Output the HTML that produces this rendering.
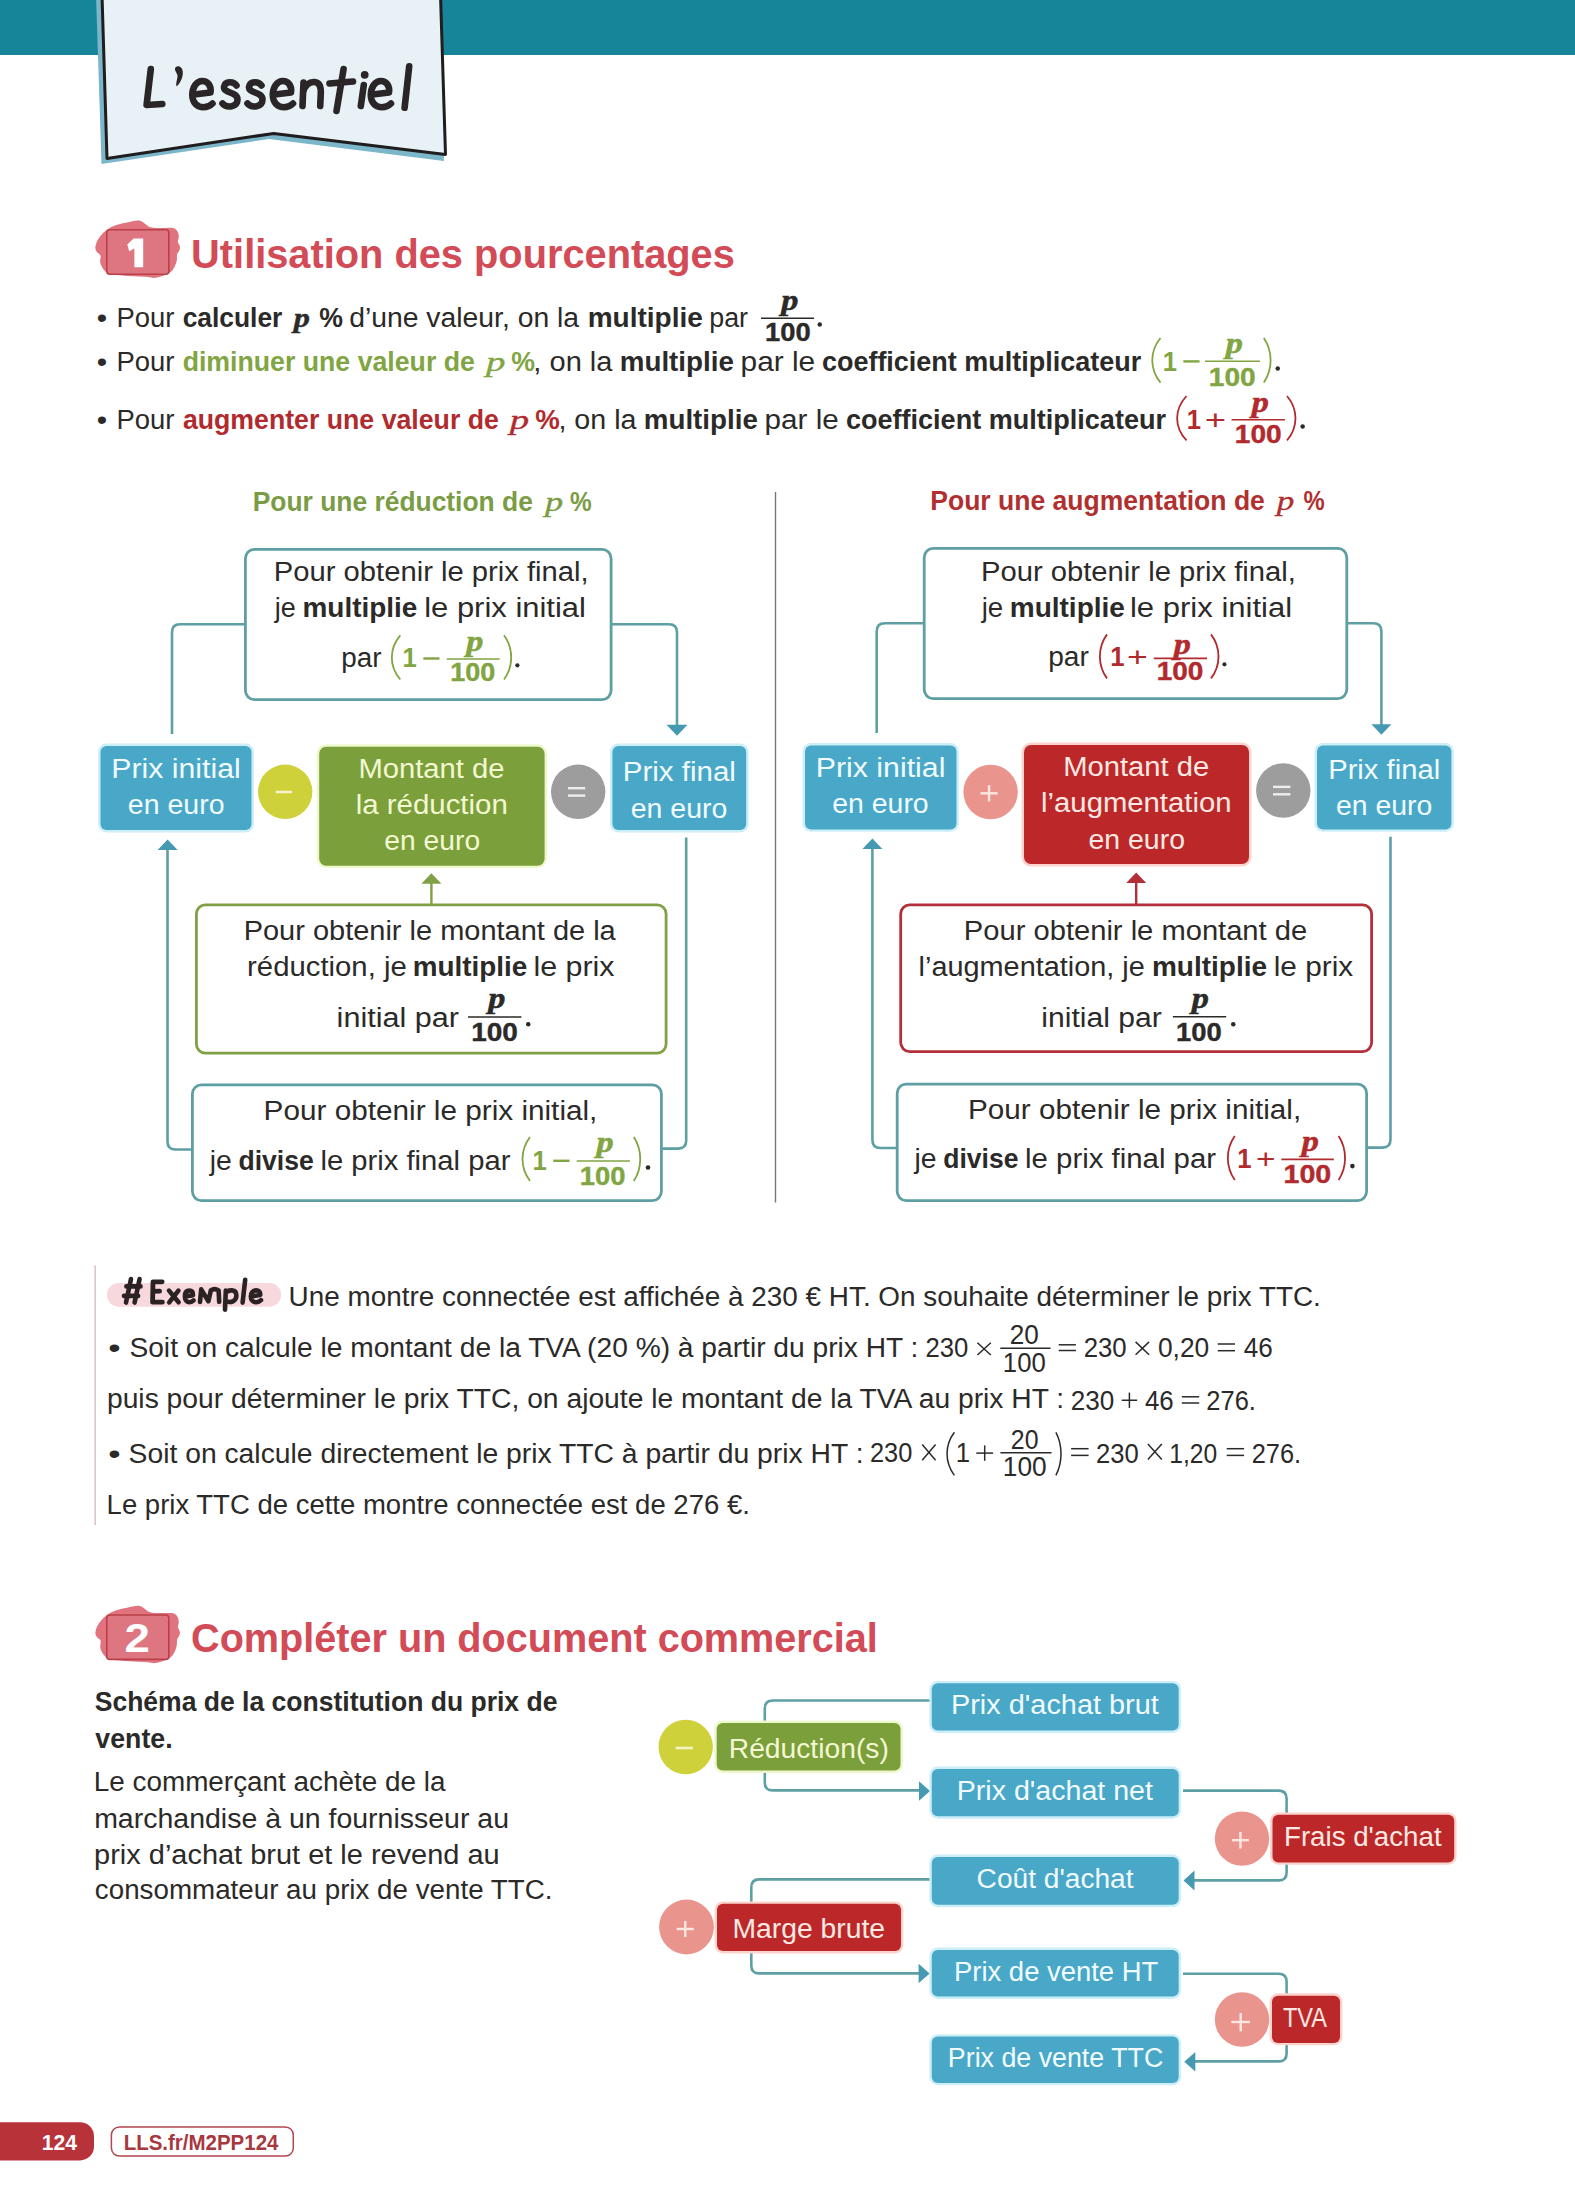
<!DOCTYPE html>
<html lang="fr"><head><meta charset="utf-8"><title>L'essentiel</title>
<style>
html,body{margin:0;padding:0;background:#fff;}
body{width:1575px;height:2205px;overflow:hidden;font-family:"Liberation Sans",sans-serif;}
svg{display:block;}
</style></head><body>
<svg width="1575" height="2205" viewBox="0 0 1575 2205">
<rect x="0" y="0" width="1575" height="2205" fill="#ffffff"/>
<rect x="0.00" y="0.00" width="1575.00" height="55.00" rx="0" fill="#16859a" stroke="none" stroke-width="0"/>
<polygon points="96.00,-5.00 101.50,164.00 269.00,139.00 444.00,161.00 439.00,-5.00" fill="#7cb6ca"/>
<path d="M102,-5 L107,158.5 L273.7,133.4 L445.5,154.4 L440.5,-5 Z" stroke="#1f1d1e" stroke-width="3" fill="#e8f1f5" stroke-linejoin="round"/>
<path d="M150.8,69 L146.6,105 L162.3,104" stroke="#2a2526" stroke-width="6.6" fill="none" stroke-linecap="round" stroke-linejoin="round"/>
<path d="M178.2,66.2 C182.5,66.5 184,72 182,78 C180.5,82 178.5,85 176.6,86.5 C175.5,84 177,80 177.5,77 C178,74 174.5,71 175,68.5 C175.5,67 176.5,66.2 178.2,66.2 Z" stroke="none" stroke-width="0" fill="#2a2526"/>
<path d="M194,94.5 L210.5,92.5 C211.5,85 207,81 202.5,81 C196,81 192.3,88 192.3,95 C192.3,103 197.5,107.3 203.5,107.3 C207.5,107.3 210.5,105.5 212.5,103.5" stroke="#2a2526" stroke-width="6.6" fill="none" stroke-linecap="round" stroke-linejoin="round"/>
<path d="M236.5,85.5 C234,81.5 225,80.5 224,87 C223.5,93.5 237.5,91.5 237.5,99.5 C237.5,107 227,108.5 222.5,103.5" stroke="#2a2526" stroke-width="6.6" fill="none" stroke-linecap="round" stroke-linejoin="round"/>
<path d="M261.5,85.5 C259,81.5 250,80.5 249,87 C248.5,93.5 262.5,91.5 262.5,99.5 C262.5,107 252,108.5 247.5,103.5" stroke="#2a2526" stroke-width="6.6" fill="none" stroke-linecap="round" stroke-linejoin="round"/>
<path d="M274.5,94.5 L291.0,92.5 C292.0,85 287.5,81 283.0,81 C276.5,81 272.8,88 272.8,95 C272.8,103 278.0,107.3 284.0,107.3 C288.0,107.3 291.0,105.5 293.0,103.5" stroke="#2a2526" stroke-width="6.6" fill="none" stroke-linecap="round" stroke-linejoin="round"/>
<path d="M303.5,82.5 L302.5,106 M303,93 C304.5,85 310,81.5 314.5,82 C319.5,82.5 321,87 320.8,93 L320.2,106" stroke="#2a2526" stroke-width="6.6" fill="none" stroke-linecap="round" stroke-linejoin="round"/>
<path d="M343.6,69 L336.5,111" stroke="#2a2526" stroke-width="6.6" fill="none" stroke-linecap="round" stroke-linejoin="round"/>
<path d="M329.5,83.5 L353,81.5" stroke="#2a2526" stroke-width="6.6" fill="none" stroke-linecap="round" stroke-linejoin="round"/>
<circle cx="364.7" cy="74.8" r="3.9" fill="#2a2526"/>
<path d="M363.8,85 L360.8,106" stroke="#2a2526" stroke-width="6.6" fill="none" stroke-linecap="round" stroke-linejoin="round"/>
<path d="M372.5,94.5 L389.0,92.5 C390.0,85 385.5,81 381.0,81 C374.5,81 370.8,88 370.8,95 C370.8,103 376.0,107.3 382.0,107.3 C386.0,107.3 389.0,105.5 391.0,103.5" stroke="#2a2526" stroke-width="6.6" fill="none" stroke-linecap="round" stroke-linejoin="round"/>
<path d="M409.2,66.3 L404.6,107.8" stroke="#2a2526" stroke-width="6.6" fill="none" stroke-linecap="round" stroke-linejoin="round"/>
<path d="M95.9,244.4 Q97.0,240.6 99.8,236.8 Q102.7,233.0 106.8,229.8 Q111.0,226.6 116.3,225.0 Q121.7,223.4 128.1,222.2 Q134.4,220.9 137.6,220.6 Q140.8,220.3 143.0,222.2 Q145.2,224.0 147.8,225.9 Q150.3,227.9 159.9,227.9 Q169.4,227.9 171.9,227.8 Q174.4,227.6 176.7,230.3 Q178.9,233.0 178.8,236.2 Q178.6,239.3 178.0,240.7 Q177.4,242.0 178.9,244.2 Q180.4,246.3 179.8,248.9 Q179.2,251.4 177.9,252.7 Q176.6,254.0 176.9,257.1 Q177.2,260.3 176.1,263.1 Q175.1,266.0 173.8,268.2 Q172.5,270.4 170.9,271.7 Q169.4,273.0 166.2,274.6 Q163.0,276.1 158.2,277.3 Q153.5,278.5 151.6,277.6 Q149.7,276.8 129.3,276.0 Q109.0,275.2 105.8,272.1 Q102.7,269.1 101.1,265.3 Q99.5,261.5 100.5,258.4 Q101.4,255.2 99.2,253.9 Q97.0,252.6 95.9,250.4 Q94.8,248.2 95.9,244.4 Z" stroke="none" stroke-width="0" fill="#e0737e"/>
<rect x="106.80" y="229.80" width="62.00" height="44.40" rx="3" fill="#de7681" stroke="#b9404a" stroke-width="1.6"/>
<polygon points="133.60,238.40 143.20,238.40 143.20,267.20 134.40,267.20 134.40,248.60 129.20,251.20 127.30,244.60" fill="#ffffff"/>
<path d="M95.9,1629.6 Q97.0,1625.8 99.8,1622.0 Q102.7,1618.2 106.8,1615.0 Q111.0,1611.8 116.3,1610.2 Q121.7,1608.6 128.1,1607.4 Q134.4,1606.1 137.6,1605.8 Q140.8,1605.5 143.0,1607.4 Q145.2,1609.2 147.8,1611.2 Q150.3,1613.1 159.9,1613.1 Q169.4,1613.1 171.9,1613.0 Q174.4,1612.8 176.7,1615.5 Q178.9,1618.2 178.8,1621.4 Q178.6,1624.5 178.0,1625.9 Q177.4,1627.2 178.9,1629.4 Q180.4,1631.5 179.8,1634.1 Q179.2,1636.6 177.9,1637.9 Q176.6,1639.2 176.9,1642.3 Q177.2,1645.5 176.1,1648.3 Q175.1,1651.2 173.8,1653.4 Q172.5,1655.6 170.9,1656.9 Q169.4,1658.2 166.2,1659.8 Q163.0,1661.3 158.2,1662.5 Q153.5,1663.7 151.6,1662.8 Q149.7,1662.0 129.3,1661.2 Q109.0,1660.4 105.8,1657.3 Q102.7,1654.3 101.1,1650.5 Q99.5,1646.7 100.5,1643.6 Q101.4,1640.4 99.2,1639.1 Q97.0,1637.8 95.9,1635.6 Q94.8,1633.4 95.9,1629.6 Z" stroke="none" stroke-width="0" fill="#e0737e"/>
<rect x="106.80" y="1615.00" width="62.00" height="44.40" rx="3" fill="#de7681" stroke="#b9404a" stroke-width="1.6"/>
<text x="124.40" y="1652.20" font-size="40" font-weight="bold" font-style="normal" font-family='"Liberation Sans", sans-serif' fill="#ffffff" textLength="25.38" lengthAdjust="spacingAndGlyphs">2</text>
<text x="191.11" y="267.80" font-size="41.5" font-weight="bold" font-style="normal" font-family='"Liberation Sans", sans-serif' fill="#d24b56" textLength="543.77" lengthAdjust="spacingAndGlyphs">Utilisation des pourcentages</text>
<text x="96.81" y="326.80" font-size="27" font-weight="normal" font-style="normal" font-family='"Liberation Sans", sans-serif' fill="#2b2a29" textLength="10.37" lengthAdjust="spacingAndGlyphs">•</text>
<text x="116.41" y="326.80" font-size="27" font-weight="normal" font-style="normal" font-family='"Liberation Sans", sans-serif' fill="#2b2a29" textLength="57.93" lengthAdjust="spacingAndGlyphs">Pour</text>
<text x="182.64" y="326.80" font-size="27" font-weight="bold" font-style="normal" font-family='"Liberation Sans", sans-serif' fill="#2b2a29" textLength="99.76" lengthAdjust="spacingAndGlyphs">calculer</text>
<text x="293.86" y="326.80" font-size="28" font-weight="bold" font-style="italic" font-family='"Liberation Serif", serif' fill="#2b2a29" textLength="16.11" lengthAdjust="spacingAndGlyphs" stroke="#2b2a29" stroke-width="0.45">p</text>
<text x="319.33" y="326.80" font-size="27" font-weight="bold" font-style="normal" font-family='"Liberation Sans", sans-serif' fill="#2b2a29" textLength="23.71" lengthAdjust="spacingAndGlyphs">%</text>
<text x="349.17" y="326.80" font-size="27" font-weight="normal" font-style="normal" font-family='"Liberation Sans", sans-serif' fill="#2b2a29" textLength="229.90" lengthAdjust="spacingAndGlyphs">d’une valeur, on la</text>
<text x="587.68" y="326.80" font-size="27" font-weight="bold" font-style="normal" font-family='"Liberation Sans", sans-serif' fill="#2b2a29" textLength="115.20" lengthAdjust="spacingAndGlyphs">multiplie</text>
<text x="709.26" y="326.80" font-size="27" font-weight="normal" font-style="normal" font-family='"Liberation Sans", sans-serif' fill="#2b2a29" textLength="38.76" lengthAdjust="spacingAndGlyphs">par</text>
<text x="781.15" y="310.13" font-size="29" font-weight="bold" font-style="italic" font-family='"Liberation Serif", serif' fill="#2b2a29" textLength="17.13" lengthAdjust="spacingAndGlyphs" stroke="#2b2a29" stroke-width="0.5">p</text>
<line x1="761.00" y1="318.20" x2="814.00" y2="318.20" stroke="#2b2a29" stroke-width="1.6"/>
<text x="765.06" y="341.30" font-size="26" font-weight="bold" font-style="normal" font-family='"Liberation Sans", sans-serif' fill="#2b2a29" textLength="45.63" lengthAdjust="spacingAndGlyphs" stroke="#2b2a29" stroke-width="0.4">100</text>
<circle cx="819.75" cy="324.55" r="2.25" fill="#2b2a29"/>
<text x="96.81" y="370.80" font-size="27" font-weight="normal" font-style="normal" font-family='"Liberation Sans", sans-serif' fill="#2b2a29" textLength="10.37" lengthAdjust="spacingAndGlyphs">•</text>
<text x="116.41" y="370.80" font-size="27" font-weight="normal" font-style="normal" font-family='"Liberation Sans", sans-serif' fill="#2b2a29" textLength="57.93" lengthAdjust="spacingAndGlyphs">Pour</text>
<text x="182.63" y="370.80" font-size="27" font-weight="bold" font-style="normal" font-family='"Liberation Sans", sans-serif' fill="#80a542" textLength="292.23" lengthAdjust="spacingAndGlyphs">diminuer une valeur de</text>
<text x="486.03" y="370.80" font-size="28" font-weight="normal" font-style="italic" font-family='"Liberation Serif", serif' fill="#80a542" textLength="19.43" lengthAdjust="spacingAndGlyphs" stroke="#80a542" stroke-width="0.35">p</text>
<text x="511.33" y="370.80" font-size="27" font-weight="bold" font-style="normal" font-family='"Liberation Sans", sans-serif' fill="#80a542" textLength="23.71" lengthAdjust="spacingAndGlyphs">%</text>
<text x="533.39" y="370.80" font-size="27" font-weight="normal" font-style="normal" font-family='"Liberation Sans", sans-serif' fill="#2b2a29" textLength="79.09" lengthAdjust="spacingAndGlyphs">, on la</text>
<text x="619.80" y="370.80" font-size="27" font-weight="bold" font-style="normal" font-family='"Liberation Sans", sans-serif' fill="#2b2a29" textLength="114.07" lengthAdjust="spacingAndGlyphs">multiplie</text>
<text x="740.56" y="370.80" font-size="27" font-weight="normal" font-style="normal" font-family='"Liberation Sans", sans-serif' fill="#2b2a29" textLength="74.68" lengthAdjust="spacingAndGlyphs">par le</text>
<text x="821.92" y="370.80" font-size="27" font-weight="bold" font-style="normal" font-family='"Liberation Sans", sans-serif' fill="#2b2a29" textLength="319.30" lengthAdjust="spacingAndGlyphs">coefficient multiplicateur</text>
<path d="M1160.50,338.00 C1149.50,351.38 1149.50,369.22 1160.50,382.60" stroke="#80a542" stroke-width="1.8" fill="none"/>
<text x="1162.68" y="370.80" font-size="27" font-weight="bold" font-style="normal" font-family='"Liberation Sans", sans-serif' fill="#80a542" textLength="14.27" lengthAdjust="spacingAndGlyphs">1</text>
<line x1="1183.30" y1="361.40" x2="1199.50" y2="361.40" stroke="#80a542" stroke-width="2.4"/>
<text x="1225.65" y="353.43" font-size="29" font-weight="bold" font-style="italic" font-family='"Liberation Serif", serif' fill="#80a542" textLength="17.13" lengthAdjust="spacingAndGlyphs" stroke="#80a542" stroke-width="0.5">p</text>
<line x1="1205.00" y1="361.20" x2="1260.00" y2="361.20" stroke="#80a542" stroke-width="1.6"/>
<text x="1208.81" y="386.10" font-size="26" font-weight="bold" font-style="normal" font-family='"Liberation Sans", sans-serif' fill="#80a542" textLength="46.91" lengthAdjust="spacingAndGlyphs" stroke="#80a542" stroke-width="0.4">100</text>
<path d="M1263.80,338.00 C1272.90,351.38 1272.90,369.22 1263.80,382.60" stroke="#80a542" stroke-width="1.8" fill="none"/>
<circle cx="1277.75" cy="368.55" r="2.25" fill="#2b2a29"/>
<text x="96.81" y="428.80" font-size="27" font-weight="normal" font-style="normal" font-family='"Liberation Sans", sans-serif' fill="#2b2a29" textLength="10.37" lengthAdjust="spacingAndGlyphs">•</text>
<text x="116.41" y="428.80" font-size="27" font-weight="normal" font-style="normal" font-family='"Liberation Sans", sans-serif' fill="#2b2a29" textLength="57.93" lengthAdjust="spacingAndGlyphs">Pour</text>
<text x="182.90" y="428.80" font-size="27" font-weight="bold" font-style="normal" font-family='"Liberation Sans", sans-serif' fill="#b12a2d" textLength="315.96" lengthAdjust="spacingAndGlyphs">augmenter une valeur de</text>
<text x="509.82" y="428.80" font-size="28" font-weight="normal" font-style="italic" font-family='"Liberation Serif", serif' fill="#b12a2d" textLength="19.34" lengthAdjust="spacingAndGlyphs" stroke="#b12a2d" stroke-width="0.35">p</text>
<text x="535.31" y="428.80" font-size="27" font-weight="bold" font-style="normal" font-family='"Liberation Sans", sans-serif' fill="#b12a2d" textLength="24.56" lengthAdjust="spacingAndGlyphs">%</text>
<text x="558.42" y="428.80" font-size="27" font-weight="normal" font-style="normal" font-family='"Liberation Sans", sans-serif' fill="#2b2a29" textLength="78.05" lengthAdjust="spacingAndGlyphs">, on la</text>
<text x="643.80" y="428.80" font-size="27" font-weight="bold" font-style="normal" font-family='"Liberation Sans", sans-serif' fill="#2b2a29" textLength="114.07" lengthAdjust="spacingAndGlyphs">multiplie</text>
<text x="764.57" y="428.80" font-size="27" font-weight="normal" font-style="normal" font-family='"Liberation Sans", sans-serif' fill="#2b2a29" textLength="74.16" lengthAdjust="spacingAndGlyphs">par le</text>
<text x="845.92" y="428.80" font-size="27" font-weight="bold" font-style="normal" font-family='"Liberation Sans", sans-serif' fill="#2b2a29" textLength="320.11" lengthAdjust="spacingAndGlyphs">coefficient multiplicateur</text>
<path d="M1186.50,396.00 C1174.00,409.32 1174.00,427.08 1186.50,440.40" stroke="#b12a2d" stroke-width="1.8" fill="none"/>
<text x="1186.73" y="428.80" font-size="27" font-weight="bold" font-style="normal" font-family='"Liberation Sans", sans-serif' fill="#b12a2d" textLength="14.27" lengthAdjust="spacingAndGlyphs">1</text>
<text x="1204.88" y="428.80" font-size="27" font-weight="normal" font-style="normal" font-family='"Liberation Sans", sans-serif' fill="#b12a2d" textLength="21.31" lengthAdjust="spacingAndGlyphs">+</text>
<text x="1251.65" y="412.23" font-size="29" font-weight="bold" font-style="italic" font-family='"Liberation Serif", serif' fill="#b12a2d" textLength="17.13" lengthAdjust="spacingAndGlyphs" stroke="#b12a2d" stroke-width="0.5">p</text>
<line x1="1231.60" y1="419.80" x2="1284.90" y2="419.80" stroke="#b12a2d" stroke-width="1.6"/>
<text x="1234.81" y="443.00" font-size="26" font-weight="bold" font-style="normal" font-family='"Liberation Sans", sans-serif' fill="#b12a2d" textLength="46.91" lengthAdjust="spacingAndGlyphs" stroke="#b12a2d" stroke-width="0.4">100</text>
<path d="M1287.00,396.00 C1298.30,409.32 1298.30,427.08 1287.00,440.40" stroke="#b12a2d" stroke-width="1.8" fill="none"/>
<circle cx="1302.65" cy="426.55" r="2.25" fill="#2b2a29"/>
<text x="252.78" y="511.40" font-size="27" font-weight="bold" font-style="normal" font-family='"Liberation Sans", sans-serif' fill="#7a9c44" textLength="280.06" lengthAdjust="spacingAndGlyphs">Pour une réduction de</text>
<text x="544.97" y="511.40" font-size="28" font-weight="normal" font-style="italic" font-family='"Liberation Serif", serif' fill="#7a9c44" textLength="18.11" lengthAdjust="spacingAndGlyphs" stroke="#7a9c44" stroke-width="0.35">p</text>
<text x="569.89" y="511.40" font-size="27" font-weight="bold" font-style="normal" font-family='"Liberation Sans", sans-serif' fill="#7a9c44" textLength="21.70" lengthAdjust="spacingAndGlyphs">%</text>
<text x="930.28" y="510.10" font-size="27" font-weight="bold" font-style="normal" font-family='"Liberation Sans", sans-serif' fill="#b1302f" textLength="334.58" lengthAdjust="spacingAndGlyphs">Pour une augmentation de</text>
<text x="1276.81" y="510.10" font-size="28" font-weight="normal" font-style="italic" font-family='"Liberation Serif", serif' fill="#b1302f" textLength="17.55" lengthAdjust="spacingAndGlyphs" stroke="#b1302f" stroke-width="0.35">p</text>
<text x="1303.40" y="510.10" font-size="27" font-weight="bold" font-style="normal" font-family='"Liberation Sans", sans-serif' fill="#b1302f" textLength="21.17" lengthAdjust="spacingAndGlyphs">%</text>
<line x1="775.50" y1="492.00" x2="775.50" y2="1202.40" stroke="#777777" stroke-width="1.4"/>
<path d="M244,624.3 L180,624.3 Q172,624.3 172,632.3 L172,734" stroke="#5e9fa4" stroke-width="2.6" fill="none"/>
<path d="M612,624.3 L669,624.3 Q677,624.3 677,632.3 L677,726" stroke="#5e9fa4" stroke-width="2.6" fill="none"/>
<polygon points="666.50,724.70 687.50,724.70 677.00,735.70" fill="#4599b0"/>
<path d="M686.2,837.6 L686.2,1140.6 Q686.2,1148.6 678.2,1148.6 L662,1148.6" stroke="#5e9fa4" stroke-width="2.6" fill="none"/>
<path d="M191,1149.5 L175.5,1149.5 Q167.5,1149.5 167.5,1141.5 L167.5,849" stroke="#5e9fa4" stroke-width="2.6" fill="none"/>
<polygon points="157.60,850.00 177.60,850.00 167.60,839.50" fill="#4599b0"/>
<path d="M431.4,904 L431.4,883" stroke="#80a046" stroke-width="2.4" fill="none"/>
<polygon points="421.40,883.80 441.40,883.80 431.40,873.30" fill="#80a046"/>
<path d="M923,623.3 L884.7,623.3 Q876.7,623.3 876.7,631.3 L876.7,733" stroke="#5e9fa4" stroke-width="2.6" fill="none"/>
<path d="M1347,623.3 L1373.4,623.3 Q1381.4,623.3 1381.4,631.3 L1381.4,725" stroke="#5e9fa4" stroke-width="2.6" fill="none"/>
<polygon points="1371.40,724.30 1391.40,724.30 1381.40,734.80" fill="#4599b0"/>
<path d="M1390.5,836.7 L1390.5,1139.6 Q1390.5,1147.6 1382.5,1147.6 L1367,1147.6" stroke="#5e9fa4" stroke-width="2.6" fill="none"/>
<path d="M896,1148 L880.4,1148 Q872.4,1148 872.4,1140 L872.4,848" stroke="#5e9fa4" stroke-width="2.6" fill="none"/>
<polygon points="862.40,849.10 882.40,849.10 872.40,838.60" fill="#4599b0"/>
<path d="M1136.2,904 L1136.2,882" stroke="#b3303a" stroke-width="2.4" fill="none"/>
<polygon points="1126.20,882.90 1146.20,882.90 1136.20,872.40" fill="#b3303a"/>
<rect x="245.40" y="549.40" width="365.70" height="150.20" rx="9" fill="#ffffff" stroke="#5e9fa4" stroke-width="2.8"/>
<rect x="98.10" y="743.60" width="155.80" height="88.80" rx="8.4" fill="#cbeef8" stroke="none" stroke-width="0"/>
<rect x="100.50" y="746.00" width="151.00" height="84.00" rx="6" fill="#49a8c8" stroke="none" stroke-width="0"/>
<circle cx="285.20" cy="791.80" r="27.20" fill="#cfd13a"/>
<line x1="275.70" y1="792.00" x2="292.20" y2="792.00" stroke="#f4f3c4" stroke-width="2.6"/>
<rect x="316.80" y="744.30" width="230.20" height="123.80" rx="9.4" fill="#eef7cc" stroke="none" stroke-width="0"/>
<rect x="319.20" y="746.70" width="225.40" height="119.00" rx="7" fill="#7b9f3b" stroke="none" stroke-width="0"/>
<circle cx="578.20" cy="791.80" r="27.20" fill="#9d9d9d"/>
<line x1="568.00" y1="788.20" x2="585.20" y2="788.20" stroke="#eeeeee" stroke-width="2.4"/>
<line x1="568.00" y1="795.60" x2="585.20" y2="795.60" stroke="#eeeeee" stroke-width="2.4"/>
<rect x="610.00" y="743.60" width="138.60" height="88.80" rx="8.4" fill="#cbeef8" stroke="none" stroke-width="0"/>
<rect x="612.40" y="746.00" width="133.80" height="84.00" rx="6" fill="#49a8c8" stroke="none" stroke-width="0"/>
<rect x="196.40" y="904.90" width="469.70" height="148.20" rx="9" fill="#ffffff" stroke="#80a046" stroke-width="2.8"/>
<rect x="192.40" y="1084.90" width="469.00" height="115.70" rx="9" fill="#ffffff" stroke="#5e9fa4" stroke-width="2.8"/>
<rect x="924.20" y="548.40" width="422.60" height="150.20" rx="9" fill="#ffffff" stroke="#5e9fa4" stroke-width="2.8"/>
<rect x="802.60" y="743.10" width="156.30" height="88.70" rx="8.4" fill="#cbeef8" stroke="none" stroke-width="0"/>
<rect x="805.00" y="745.50" width="151.50" height="83.90" rx="6" fill="#49a8c8" stroke="none" stroke-width="0"/>
<circle cx="990.60" cy="792.00" r="27.20" fill="#e9958d"/>
<line x1="980.50" y1="793.30" x2="997.60" y2="793.30" stroke="#fbe6e0" stroke-width="2.4"/>
<line x1="989.05" y1="785.20" x2="989.05" y2="801.40" stroke="#fbe6e0" stroke-width="2.4"/>
<rect x="1021.60" y="742.60" width="229.80" height="123.80" rx="9.4" fill="#fbd3cc" stroke="none" stroke-width="0"/>
<rect x="1024.00" y="745.00" width="225.00" height="119.00" rx="7" fill="#bc2829" stroke="none" stroke-width="0"/>
<circle cx="1283.30" cy="790.50" r="27.20" fill="#9d9d9d"/>
<line x1="1273.00" y1="786.90" x2="1290.40" y2="786.90" stroke="#eeeeee" stroke-width="2.4"/>
<line x1="1273.00" y1="794.30" x2="1290.40" y2="794.30" stroke="#eeeeee" stroke-width="2.4"/>
<rect x="1314.60" y="743.10" width="139.20" height="88.70" rx="8.4" fill="#cbeef8" stroke="none" stroke-width="0"/>
<rect x="1317.00" y="745.50" width="134.40" height="83.90" rx="6" fill="#49a8c8" stroke="none" stroke-width="0"/>
<rect x="900.70" y="904.90" width="470.90" height="146.70" rx="9" fill="#ffffff" stroke="#b3303a" stroke-width="2.8"/>
<rect x="897.20" y="1084.20" width="469.40" height="116.40" rx="9" fill="#ffffff" stroke="#5e9fa4" stroke-width="2.8"/>
<text x="273.87" y="581.00" font-size="27" font-weight="normal" font-style="normal" font-family='"Liberation Sans", sans-serif' fill="#2b2a29" textLength="314.72" lengthAdjust="spacingAndGlyphs">Pour obtenir le prix final,</text>
<text x="274.67" y="616.60" font-size="27" font-weight="normal" font-style="normal" font-family='"Liberation Sans", sans-serif' fill="#2b2a29" textLength="21.00" lengthAdjust="spacingAndGlyphs">je</text>
<text x="302.48" y="616.60" font-size="27" font-weight="bold" font-style="normal" font-family='"Liberation Sans", sans-serif' fill="#2b2a29" textLength="114.89" lengthAdjust="spacingAndGlyphs">multiplie</text>
<text x="424.19" y="616.60" font-size="27" font-weight="normal" font-style="normal" font-family='"Liberation Sans", sans-serif' fill="#2b2a29" textLength="161.76" lengthAdjust="spacingAndGlyphs">le prix initial</text>
<text x="341.19" y="667.40" font-size="27" font-weight="normal" font-style="normal" font-family='"Liberation Sans", sans-serif' fill="#2b2a29" textLength="40.24" lengthAdjust="spacingAndGlyphs">par</text>
<path d="M400.30,635.30 C389.00,648.56 389.00,666.24 400.30,679.50" stroke="#80a542" stroke-width="1.8" fill="none"/>
<text x="402.43" y="667.40" font-size="27" font-weight="bold" font-style="normal" font-family='"Liberation Sans", sans-serif' fill="#80a542" textLength="14.27" lengthAdjust="spacingAndGlyphs">1</text>
<line x1="423.30" y1="658.50" x2="439.50" y2="658.50" stroke="#80a542" stroke-width="2.4"/>
<text x="466.35" y="650.83" font-size="29" font-weight="bold" font-style="italic" font-family='"Liberation Serif", serif' fill="#80a542" textLength="17.13" lengthAdjust="spacingAndGlyphs" stroke="#80a542" stroke-width="0.5">p</text>
<line x1="446.70" y1="659.00" x2="499.60" y2="659.00" stroke="#80a542" stroke-width="1.6"/>
<text x="450.38" y="681.40" font-size="26" font-weight="bold" font-style="normal" font-family='"Liberation Sans", sans-serif' fill="#80a542" textLength="44.99" lengthAdjust="spacingAndGlyphs" stroke="#80a542" stroke-width="0.4">100</text>
<path d="M504.00,635.30 C513.60,648.56 513.60,666.24 504.00,679.50" stroke="#80a542" stroke-width="1.8" fill="none"/>
<circle cx="517.40" cy="665.30" r="2.10" fill="#2b2a29"/>
<text x="980.96" y="580.80" font-size="27" font-weight="normal" font-style="normal" font-family='"Liberation Sans", sans-serif' fill="#2b2a29" textLength="314.92" lengthAdjust="spacingAndGlyphs">Pour obtenir le prix final,</text>
<text x="981.69" y="617.00" font-size="27" font-weight="normal" font-style="normal" font-family='"Liberation Sans", sans-serif' fill="#2b2a29" textLength="21.51" lengthAdjust="spacingAndGlyphs">je</text>
<text x="1009.78" y="617.00" font-size="27" font-weight="bold" font-style="normal" font-family='"Liberation Sans", sans-serif' fill="#2b2a29" textLength="115.10" lengthAdjust="spacingAndGlyphs">multiplie</text>
<text x="1129.98" y="617.00" font-size="27" font-weight="normal" font-style="normal" font-family='"Liberation Sans", sans-serif' fill="#2b2a29" textLength="162.17" lengthAdjust="spacingAndGlyphs">le prix initial</text>
<text x="1048.17" y="666.40" font-size="27" font-weight="normal" font-style="normal" font-family='"Liberation Sans", sans-serif' fill="#2b2a29" textLength="40.66" lengthAdjust="spacingAndGlyphs">par</text>
<path d="M1107.00,634.40 C1097.50,647.60 1097.50,665.20 1107.00,678.40" stroke="#b12a2d" stroke-width="1.8" fill="none"/>
<text x="1110.18" y="666.40" font-size="27" font-weight="bold" font-style="normal" font-family='"Liberation Sans", sans-serif' fill="#b12a2d" textLength="14.27" lengthAdjust="spacingAndGlyphs">1</text>
<text x="1127.12" y="666.40" font-size="27" font-weight="normal" font-style="normal" font-family='"Liberation Sans", sans-serif' fill="#b12a2d" textLength="20.83" lengthAdjust="spacingAndGlyphs">+</text>
<text x="1173.75" y="654.43" font-size="29" font-weight="bold" font-style="italic" font-family='"Liberation Serif", serif' fill="#b12a2d" textLength="17.13" lengthAdjust="spacingAndGlyphs" stroke="#b12a2d" stroke-width="0.5">p</text>
<line x1="1153.80" y1="658.40" x2="1207.00" y2="658.40" stroke="#b12a2d" stroke-width="1.6"/>
<text x="1156.72" y="680.10" font-size="26" font-weight="bold" font-style="normal" font-family='"Liberation Sans", sans-serif' fill="#b12a2d" textLength="46.70" lengthAdjust="spacingAndGlyphs" stroke="#b12a2d" stroke-width="0.4">100</text>
<path d="M1211.00,634.40 C1221.00,647.60 1221.00,665.20 1211.00,678.40" stroke="#b12a2d" stroke-width="1.8" fill="none"/>
<circle cx="1224.45" cy="664.35" r="2.05" fill="#2b2a29"/>
<text x="111.38" y="778.00" font-size="27" font-weight="normal" font-style="normal" font-family='"Liberation Sans", sans-serif' fill="#f2fbff" textLength="129.30" lengthAdjust="spacingAndGlyphs">Prix initial</text>
<text x="127.86" y="814.20" font-size="27" font-weight="normal" font-style="normal" font-family='"Liberation Sans", sans-serif' fill="#f2fbff" textLength="96.63" lengthAdjust="spacingAndGlyphs">en euro</text>
<text x="358.46" y="778.10" font-size="27" font-weight="normal" font-style="normal" font-family='"Liberation Sans", sans-serif' fill="#f3f8d2" textLength="146.11" lengthAdjust="spacingAndGlyphs">Montant de</text>
<text x="355.69" y="814.10" font-size="27" font-weight="normal" font-style="normal" font-family='"Liberation Sans", sans-serif' fill="#f3f8d2" textLength="152.08" lengthAdjust="spacingAndGlyphs">la réduction</text>
<text x="384.27" y="850.00" font-size="27" font-weight="normal" font-style="normal" font-family='"Liberation Sans", sans-serif' fill="#f3f8d2" textLength="95.91" lengthAdjust="spacingAndGlyphs">en euro</text>
<text x="622.84" y="781.30" font-size="27" font-weight="normal" font-style="normal" font-family='"Liberation Sans", sans-serif' fill="#f2fbff" textLength="113.01" lengthAdjust="spacingAndGlyphs">Prix final</text>
<text x="630.76" y="817.50" font-size="27" font-weight="normal" font-style="normal" font-family='"Liberation Sans", sans-serif' fill="#f2fbff" textLength="96.63" lengthAdjust="spacingAndGlyphs">en euro</text>
<text x="815.78" y="776.50" font-size="27" font-weight="normal" font-style="normal" font-family='"Liberation Sans", sans-serif' fill="#f2fbff" textLength="129.61" lengthAdjust="spacingAndGlyphs">Prix initial</text>
<text x="832.26" y="813.10" font-size="27" font-weight="normal" font-style="normal" font-family='"Liberation Sans", sans-serif' fill="#f2fbff" textLength="96.42" lengthAdjust="spacingAndGlyphs">en euro</text>
<text x="1063.27" y="776.40" font-size="27" font-weight="normal" font-style="normal" font-family='"Liberation Sans", sans-serif' fill="#fde9e3" textLength="145.90" lengthAdjust="spacingAndGlyphs">Montant de</text>
<text x="1041.10" y="811.90" font-size="27" font-weight="normal" font-style="normal" font-family='"Liberation Sans", sans-serif' fill="#fde9e3" textLength="190.35" lengthAdjust="spacingAndGlyphs">l’augmentation</text>
<text x="1088.56" y="848.50" font-size="27" font-weight="normal" font-style="normal" font-family='"Liberation Sans", sans-serif' fill="#fde9e3" textLength="96.42" lengthAdjust="spacingAndGlyphs">en euro</text>
<text x="1328.16" y="779.40" font-size="27" font-weight="normal" font-style="normal" font-family='"Liberation Sans", sans-serif' fill="#f2fbff" textLength="111.97" lengthAdjust="spacingAndGlyphs">Prix final</text>
<text x="1335.97" y="814.60" font-size="27" font-weight="normal" font-style="normal" font-family='"Liberation Sans", sans-serif' fill="#f2fbff" textLength="96.22" lengthAdjust="spacingAndGlyphs">en euro</text>
<text x="243.68" y="939.80" font-size="27" font-weight="normal" font-style="normal" font-family='"Liberation Sans", sans-serif' fill="#2b2a29" textLength="372.07" lengthAdjust="spacingAndGlyphs">Pour obtenir le montant de la</text>
<text x="247.10" y="976.00" font-size="27" font-weight="normal" font-style="normal" font-family='"Liberation Sans", sans-serif' fill="#2b2a29" textLength="159.66" lengthAdjust="spacingAndGlyphs">réduction, je</text>
<text x="412.69" y="976.00" font-size="27" font-weight="bold" font-style="normal" font-family='"Liberation Sans", sans-serif' fill="#2b2a29" textLength="114.48" lengthAdjust="spacingAndGlyphs">multiplie</text>
<text x="533.42" y="976.00" font-size="27" font-weight="normal" font-style="normal" font-family='"Liberation Sans", sans-serif' fill="#2b2a29" textLength="81.11" lengthAdjust="spacingAndGlyphs">le prix</text>
<text x="336.61" y="1026.50" font-size="27" font-weight="normal" font-style="normal" font-family='"Liberation Sans", sans-serif' fill="#2b2a29" textLength="122.36" lengthAdjust="spacingAndGlyphs">initial par</text>
<text x="488.35" y="1008.43" font-size="29" font-weight="bold" font-style="italic" font-family='"Liberation Serif", serif' fill="#2b2a29" textLength="17.13" lengthAdjust="spacingAndGlyphs" stroke="#2b2a29" stroke-width="0.5">p</text>
<line x1="468.00" y1="1017.00" x2="521.40" y2="1017.00" stroke="#2b2a29" stroke-width="1.6"/>
<text x="471.22" y="1040.80" font-size="26" font-weight="bold" font-style="normal" font-family='"Liberation Sans", sans-serif' fill="#2b2a29" textLength="46.70" lengthAdjust="spacingAndGlyphs" stroke="#2b2a29" stroke-width="0.4">100</text>
<circle cx="528.25" cy="1024.25" r="2.25" fill="#2b2a29"/>
<text x="263.62" y="1120.20" font-size="27" font-weight="normal" font-style="normal" font-family='"Liberation Sans", sans-serif' fill="#2b2a29" textLength="333.79" lengthAdjust="spacingAndGlyphs">Pour obtenir le prix initial,</text>
<text x="209.71" y="1169.80" font-size="27" font-weight="normal" font-style="normal" font-family='"Liberation Sans", sans-serif' fill="#2b2a29" textLength="22.07" lengthAdjust="spacingAndGlyphs">je</text>
<text x="238.44" y="1169.80" font-size="27" font-weight="bold" font-style="normal" font-family='"Liberation Sans", sans-serif' fill="#2b2a29" textLength="75.26" lengthAdjust="spacingAndGlyphs">divise</text>
<text x="320.50" y="1169.80" font-size="27" font-weight="normal" font-style="normal" font-family='"Liberation Sans", sans-serif' fill="#2b2a29" textLength="189.88" lengthAdjust="spacingAndGlyphs">le prix final par</text>
<path d="M530.00,1137.00 C520.00,1150.20 520.00,1167.80 530.00,1181.00" stroke="#80a542" stroke-width="1.8" fill="none"/>
<text x="532.43" y="1169.80" font-size="27" font-weight="bold" font-style="normal" font-family='"Liberation Sans", sans-serif' fill="#80a542" textLength="14.27" lengthAdjust="spacingAndGlyphs">1</text>
<line x1="553.30" y1="1160.80" x2="569.50" y2="1160.80" stroke="#80a542" stroke-width="2.4"/>
<text x="596.45" y="1152.43" font-size="29" font-weight="bold" font-style="italic" font-family='"Liberation Serif", serif' fill="#80a542" textLength="17.13" lengthAdjust="spacingAndGlyphs" stroke="#80a542" stroke-width="0.5">p</text>
<line x1="576.70" y1="1161.00" x2="630.00" y2="1161.00" stroke="#80a542" stroke-width="1.6"/>
<text x="579.76" y="1184.60" font-size="26" font-weight="bold" font-style="normal" font-family='"Liberation Sans", sans-serif' fill="#80a542" textLength="45.74" lengthAdjust="spacingAndGlyphs" stroke="#80a542" stroke-width="0.4">100</text>
<path d="M633.80,1137.00 C642.40,1150.20 642.40,1167.80 633.80,1181.00" stroke="#80a542" stroke-width="1.8" fill="none"/>
<circle cx="648.00" cy="1167.50" r="2.30" fill="#2b2a29"/>
<text x="963.87" y="939.80" font-size="27" font-weight="normal" font-style="normal" font-family='"Liberation Sans", sans-serif' fill="#2b2a29" textLength="343.31" lengthAdjust="spacingAndGlyphs">Pour obtenir le montant de</text>
<text x="918.62" y="976.00" font-size="27" font-weight="normal" font-style="normal" font-family='"Liberation Sans", sans-serif' fill="#2b2a29" textLength="226.13" lengthAdjust="spacingAndGlyphs">l’augmentation, je</text>
<text x="1151.98" y="976.00" font-size="27" font-weight="bold" font-style="normal" font-family='"Liberation Sans", sans-serif' fill="#2b2a29" textLength="115.10" lengthAdjust="spacingAndGlyphs">multiplie</text>
<text x="1273.77" y="976.00" font-size="27" font-weight="normal" font-style="normal" font-family='"Liberation Sans", sans-serif' fill="#2b2a29" textLength="79.36" lengthAdjust="spacingAndGlyphs">le prix</text>
<text x="1041.34" y="1026.50" font-size="27" font-weight="normal" font-style="normal" font-family='"Liberation Sans", sans-serif' fill="#2b2a29" textLength="120.42" lengthAdjust="spacingAndGlyphs">initial par</text>
<text x="1191.65" y="1008.43" font-size="29" font-weight="bold" font-style="italic" font-family='"Liberation Serif", serif' fill="#2b2a29" textLength="17.13" lengthAdjust="spacingAndGlyphs" stroke="#2b2a29" stroke-width="0.5">p</text>
<line x1="1172.90" y1="1016.80" x2="1226.20" y2="1016.80" stroke="#2b2a29" stroke-width="1.6"/>
<text x="1175.96" y="1040.80" font-size="26" font-weight="bold" font-style="normal" font-family='"Liberation Sans", sans-serif' fill="#2b2a29" textLength="45.74" lengthAdjust="spacingAndGlyphs" stroke="#2b2a29" stroke-width="0.4">100</text>
<circle cx="1233.25" cy="1024.25" r="2.25" fill="#2b2a29"/>
<text x="968.03" y="1118.80" font-size="27" font-weight="normal" font-style="normal" font-family='"Liberation Sans", sans-serif' fill="#2b2a29" textLength="333.18" lengthAdjust="spacingAndGlyphs">Pour obtenir le prix initial,</text>
<text x="914.51" y="1168.40" font-size="27" font-weight="normal" font-style="normal" font-family='"Liberation Sans", sans-serif' fill="#2b2a29" textLength="22.07" lengthAdjust="spacingAndGlyphs">je</text>
<text x="943.24" y="1168.40" font-size="27" font-weight="bold" font-style="normal" font-family='"Liberation Sans", sans-serif' fill="#2b2a29" textLength="75.16" lengthAdjust="spacingAndGlyphs">divise</text>
<text x="1025.09" y="1168.40" font-size="27" font-weight="normal" font-style="normal" font-family='"Liberation Sans", sans-serif' fill="#2b2a29" textLength="190.99" lengthAdjust="spacingAndGlyphs">le prix final par</text>
<path d="M1234.80,1136.00 C1225.50,1149.20 1225.50,1166.80 1234.80,1180.00" stroke="#b12a2d" stroke-width="1.8" fill="none"/>
<text x="1237.18" y="1168.40" font-size="27" font-weight="bold" font-style="normal" font-family='"Liberation Sans", sans-serif' fill="#b12a2d" textLength="14.27" lengthAdjust="spacingAndGlyphs">1</text>
<text x="1255.93" y="1168.40" font-size="27" font-weight="normal" font-style="normal" font-family='"Liberation Sans", sans-serif' fill="#b12a2d" textLength="19.51" lengthAdjust="spacingAndGlyphs">+</text>
<text x="1301.65" y="1151.43" font-size="29" font-weight="bold" font-style="italic" font-family='"Liberation Serif", serif' fill="#b12a2d" textLength="17.13" lengthAdjust="spacingAndGlyphs" stroke="#b12a2d" stroke-width="0.5">p</text>
<line x1="1281.40" y1="1159.40" x2="1333.80" y2="1159.40" stroke="#b12a2d" stroke-width="1.6"/>
<text x="1283.48" y="1182.80" font-size="26" font-weight="bold" font-style="normal" font-family='"Liberation Sans", sans-serif' fill="#b12a2d" textLength="47.76" lengthAdjust="spacingAndGlyphs" stroke="#b12a2d" stroke-width="0.4">100</text>
<path d="M1338.60,1136.00 C1347.20,1149.20 1347.20,1166.80 1338.60,1180.00" stroke="#b12a2d" stroke-width="1.8" fill="none"/>
<circle cx="1352.40" cy="1166.10" r="2.30" fill="#2b2a29"/>
<line x1="95.20" y1="1265.50" x2="95.20" y2="1525.00" stroke="#dcc4ca" stroke-width="1.6"/>
<rect x="106.90" y="1282.90" width="174.30" height="23.80" rx="12" fill="#f7d8dd" stroke="none" stroke-width="0"/>
<path d="M131,1279 L126,1302.6 M139.6,1279 L134.6,1302.6 M126.4,1286.4 L140.5,1286.4 M124,1295.9 L138.1,1295.9" stroke="#2a2223" stroke-width="4.6" fill="none" stroke-linecap="round" stroke-linejoin="round"/>
<path d="M162.2,1281.8 L153,1281.8 L152.6,1302.2 L162.4,1302.2 M152.8,1291.4 L159.6,1291.2" stroke="#2a2223" stroke-width="4.8" fill="none" stroke-linecap="round" stroke-linejoin="round"/>
<path d="M169,1290.6 L178.6,1302.2 M178.4,1290.6 L169.2,1302.4" stroke="#2a2223" stroke-width="4.6" fill="none" stroke-linecap="round" stroke-linejoin="round"/>
<path d="M185.5,1296.4 L193,1295.2 C193.4,1291.8 191.6,1290.6 189.4,1290.6 C186.4,1290.6 184.9,1293 184.9,1296.4 C184.9,1300 187,1302.2 189.6,1302.2 C191.4,1302.2 192.6,1301.4 193.6,1300.4" stroke="#2a2223" stroke-width="4.6" fill="none" stroke-linecap="round" stroke-linejoin="round"/>
<path d="M200,1302 L201.2,1289.4 L208.4,1301.2 L210.8,1290.4 Q214.5,1288 218.6,1290.4 L219.2,1301.8" stroke="#2a2223" stroke-width="4.6" fill="none" stroke-linecap="round" stroke-linejoin="round"/>
<path d="M225.8,1290.6 L225,1309.6 M225.8,1292.8 C228,1289.8 236.4,1288.4 236.4,1295.6 C236.4,1301.6 230.6,1302.8 226.2,1301.4" stroke="#2a2223" stroke-width="4.6" fill="none" stroke-linecap="round" stroke-linejoin="round"/>
<path d="M245.2,1279.8 L242.6,1302.6" stroke="#2a2223" stroke-width="4.6" fill="none" stroke-linecap="round" stroke-linejoin="round"/>
<path d="M251.4,1296.4 L260.2,1295 C260.6,1291.6 258.6,1290.4 256,1290.4 C252.6,1290.4 250.8,1293 250.8,1296.4 C250.8,1300 253.2,1302.2 256.2,1302.2 C258.4,1302.2 259.8,1301.4 261,1300.2" stroke="#2a2223" stroke-width="4.6" fill="none" stroke-linecap="round" stroke-linejoin="round"/>
<text x="288.61" y="1305.60" font-size="27" font-weight="normal" font-style="normal" font-family='"Liberation Sans", sans-serif' fill="#2b2a29" textLength="1032.26" lengthAdjust="spacingAndGlyphs">Une montre connectée est affichée à 230 € HT. On souhaite déterminer le prix TTC.</text>
<text x="108.39" y="1357.00" font-size="27" font-weight="normal" font-style="normal" font-family='"Liberation Sans", sans-serif' fill="#2b2a29" textLength="12.32" lengthAdjust="spacingAndGlyphs">•</text>
<text x="129.43" y="1357.00" font-size="27" font-weight="normal" font-style="normal" font-family='"Liberation Sans", sans-serif' fill="#2b2a29" textLength="788.98" lengthAdjust="spacingAndGlyphs">Soit on calcule le montant de la TVA (20 %) à partir du prix HT :</text>
<text x="925.42" y="1357.00" font-size="27" font-weight="normal" font-style="normal" font-family='"Liberation Sans", sans-serif' fill="#2b2a29" textLength="42.87" lengthAdjust="spacingAndGlyphs">230</text>
<line x1="977.40" y1="1342.80" x2="990.80" y2="1355.00" stroke="#2b2a29" stroke-width="1.5"/>
<line x1="977.40" y1="1355.00" x2="990.80" y2="1342.80" stroke="#2b2a29" stroke-width="1.5"/>
<text x="1009.69" y="1344.30" font-size="27" font-weight="normal" font-style="normal" font-family='"Liberation Sans", sans-serif' fill="#2b2a29" textLength="29.08" lengthAdjust="spacingAndGlyphs">20</text>
<line x1="1000.30" y1="1348.20" x2="1050.50" y2="1348.20" stroke="#2b2a29" stroke-width="1.4"/>
<text x="1002.87" y="1371.60" font-size="27" font-weight="normal" font-style="normal" font-family='"Liberation Sans", sans-serif' fill="#2b2a29" textLength="42.92" lengthAdjust="spacingAndGlyphs">100</text>
<line x1="1058.70" y1="1344.80" x2="1075.90" y2="1344.80" stroke="#2b2a29" stroke-width="1.5"/>
<line x1="1058.70" y1="1350.50" x2="1075.90" y2="1350.50" stroke="#2b2a29" stroke-width="1.5"/>
<text x="1083.71" y="1357.10" font-size="27" font-weight="normal" font-style="normal" font-family='"Liberation Sans", sans-serif' fill="#2b2a29" textLength="42.98" lengthAdjust="spacingAndGlyphs">230</text>
<line x1="1135.60" y1="1341.90" x2="1149.10" y2="1354.70" stroke="#2b2a29" stroke-width="1.5"/>
<line x1="1135.60" y1="1354.70" x2="1149.10" y2="1341.90" stroke="#2b2a29" stroke-width="1.5"/>
<text x="1157.95" y="1357.10" font-size="27" font-weight="normal" font-style="normal" font-family='"Liberation Sans", sans-serif' fill="#2b2a29" textLength="51.31" lengthAdjust="spacingAndGlyphs">0,20</text>
<line x1="1217.70" y1="1344.00" x2="1235.00" y2="1344.00" stroke="#2b2a29" stroke-width="1.5"/>
<line x1="1217.70" y1="1350.70" x2="1235.00" y2="1350.70" stroke="#2b2a29" stroke-width="1.5"/>
<text x="1243.78" y="1357.10" font-size="27" font-weight="normal" font-style="normal" font-family='"Liberation Sans", sans-serif' fill="#2b2a29" textLength="29.03" lengthAdjust="spacingAndGlyphs">46</text>
<text x="106.96" y="1408.40" font-size="27" font-weight="normal" font-style="normal" font-family='"Liberation Sans", sans-serif' fill="#2b2a29" textLength="957.22" lengthAdjust="spacingAndGlyphs">puis pour déterminer le prix TTC, on ajoute le montant de la TVA au prix HT :</text>
<text x="1070.80" y="1409.80" font-size="27" font-weight="normal" font-style="normal" font-family='"Liberation Sans", sans-serif' fill="#2b2a29" textLength="43.51" lengthAdjust="spacingAndGlyphs">230</text>
<line x1="1121.70" y1="1400.25" x2="1137.10" y2="1400.25" stroke="#2b2a29" stroke-width="1.5"/>
<line x1="1129.40" y1="1392.60" x2="1129.40" y2="1407.90" stroke="#2b2a29" stroke-width="1.5"/>
<text x="1144.98" y="1409.80" font-size="27" font-weight="normal" font-style="normal" font-family='"Liberation Sans", sans-serif' fill="#2b2a29" textLength="28.82" lengthAdjust="spacingAndGlyphs">46</text>
<line x1="1181.80" y1="1396.80" x2="1199.20" y2="1396.80" stroke="#2b2a29" stroke-width="1.5"/>
<line x1="1181.80" y1="1403.00" x2="1199.20" y2="1403.00" stroke="#2b2a29" stroke-width="1.5"/>
<text x="1206.33" y="1409.80" font-size="27" font-weight="normal" font-style="normal" font-family='"Liberation Sans", sans-serif' fill="#2b2a29" textLength="49.57" lengthAdjust="spacingAndGlyphs">276.</text>
<text x="108.39" y="1462.70" font-size="27" font-weight="normal" font-style="normal" font-family='"Liberation Sans", sans-serif' fill="#2b2a29" textLength="12.32" lengthAdjust="spacingAndGlyphs">•</text>
<text x="128.53" y="1462.70" font-size="27" font-weight="normal" font-style="normal" font-family='"Liberation Sans", sans-serif' fill="#2b2a29" textLength="734.98" lengthAdjust="spacingAndGlyphs">Soit on calcule directement le prix TTC à partir du prix HT :</text>
<text x="869.93" y="1462.30" font-size="27" font-weight="normal" font-style="normal" font-family='"Liberation Sans", sans-serif' fill="#2b2a29" textLength="42.35" lengthAdjust="spacingAndGlyphs">230</text>
<line x1="922.20" y1="1444.60" x2="935.60" y2="1460.20" stroke="#2b2a29" stroke-width="1.5"/>
<line x1="922.20" y1="1460.20" x2="935.60" y2="1444.60" stroke="#2b2a29" stroke-width="1.5"/>
<path d="M954.40,1432.30 C944.60,1445.23 944.60,1462.47 954.40,1475.40" stroke="#2b2a29" stroke-width="1.5" fill="none"/>
<text x="955.70" y="1462.30" font-size="27" font-weight="normal" font-style="normal" font-family='"Liberation Sans", sans-serif' fill="#2b2a29" textLength="14.27" lengthAdjust="spacingAndGlyphs">1</text>
<line x1="976.30" y1="1453.10" x2="993.10" y2="1453.10" stroke="#2b2a29" stroke-width="1.5"/>
<line x1="984.70" y1="1445.40" x2="984.70" y2="1460.80" stroke="#2b2a29" stroke-width="1.5"/>
<text x="1010.86" y="1449.20" font-size="27" font-weight="normal" font-style="normal" font-family='"Liberation Sans", sans-serif' fill="#2b2a29" textLength="27.67" lengthAdjust="spacingAndGlyphs">20</text>
<line x1="1000.40" y1="1452.70" x2="1051.50" y2="1452.70" stroke="#2b2a29" stroke-width="1.4"/>
<text x="1002.83" y="1476.20" font-size="27" font-weight="normal" font-style="normal" font-family='"Liberation Sans", sans-serif' fill="#2b2a29" textLength="43.89" lengthAdjust="spacingAndGlyphs">100</text>
<path d="M1055.90,1432.30 C1062.70,1445.23 1062.70,1462.47 1055.90,1475.40" stroke="#2b2a29" stroke-width="1.5" fill="none"/>
<line x1="1071.10" y1="1448.70" x2="1088.60" y2="1448.70" stroke="#2b2a29" stroke-width="1.5"/>
<line x1="1071.10" y1="1455.40" x2="1088.60" y2="1455.40" stroke="#2b2a29" stroke-width="1.5"/>
<text x="1096.02" y="1462.50" font-size="27" font-weight="normal" font-style="normal" font-family='"Liberation Sans", sans-serif' fill="#2b2a29" textLength="42.77" lengthAdjust="spacingAndGlyphs">230</text>
<line x1="1147.90" y1="1444.10" x2="1161.80" y2="1459.60" stroke="#2b2a29" stroke-width="1.5"/>
<line x1="1147.90" y1="1459.60" x2="1161.80" y2="1444.10" stroke="#2b2a29" stroke-width="1.5"/>
<text x="1169.25" y="1462.50" font-size="27" font-weight="normal" font-style="normal" font-family='"Liberation Sans", sans-serif' fill="#2b2a29" textLength="47.94" lengthAdjust="spacingAndGlyphs">1,20</text>
<line x1="1226.70" y1="1448.70" x2="1244.10" y2="1448.70" stroke="#2b2a29" stroke-width="1.5"/>
<line x1="1226.70" y1="1455.40" x2="1244.10" y2="1455.40" stroke="#2b2a29" stroke-width="1.5"/>
<text x="1251.63" y="1462.50" font-size="27" font-weight="normal" font-style="normal" font-family='"Liberation Sans", sans-serif' fill="#2b2a29" textLength="49.46" lengthAdjust="spacingAndGlyphs">276.</text>
<text x="106.60" y="1514.10" font-size="27" font-weight="normal" font-style="normal" font-family='"Liberation Sans", sans-serif' fill="#2b2a29" textLength="643.25" lengthAdjust="spacingAndGlyphs">Le prix TTC de cette montre connectée est de 276 €.</text>
<text x="191.02" y="1652.20" font-size="41.5" font-weight="bold" font-style="normal" font-family='"Liberation Sans", sans-serif' fill="#d24b56" textLength="686.84" lengthAdjust="spacingAndGlyphs">Compléter un document commercial</text>
<text x="94.70" y="1711.30" font-size="27" font-weight="bold" font-style="normal" font-family='"Liberation Sans", sans-serif' fill="#2b2a29" textLength="462.76" lengthAdjust="spacingAndGlyphs">Schéma de la constitution du prix de</text>
<text x="95.37" y="1748.40" font-size="27" font-weight="bold" font-style="normal" font-family='"Liberation Sans", sans-serif' fill="#2b2a29" textLength="77.21" lengthAdjust="spacingAndGlyphs">vente.</text>
<text x="93.77" y="1791.40" font-size="27" font-weight="normal" font-style="normal" font-family='"Liberation Sans", sans-serif' fill="#2b2a29" textLength="351.63" lengthAdjust="spacingAndGlyphs">Le commerçant achète de la</text>
<text x="94.15" y="1827.80" font-size="27" font-weight="normal" font-style="normal" font-family='"Liberation Sans", sans-serif' fill="#2b2a29" textLength="414.89" lengthAdjust="spacingAndGlyphs">marchandise à un fournisseur au</text>
<text x="94.12" y="1863.50" font-size="27" font-weight="normal" font-style="normal" font-family='"Liberation Sans", sans-serif' fill="#2b2a29" textLength="405.57" lengthAdjust="spacingAndGlyphs">prix d’achat brut et le revend au</text>
<text x="94.89" y="1899.40" font-size="27" font-weight="normal" font-style="normal" font-family='"Liberation Sans", sans-serif' fill="#2b2a29" textLength="457.58" lengthAdjust="spacingAndGlyphs">consommateur au prix de vente TTC.</text>
<path d="M931,1700.5 L772.8,1700.5 Q764.8,1700.5 764.8,1708.5 L764.8,1724" stroke="#5e9fa4" stroke-width="2.6" fill="none"/>
<path d="M764.8,1770 L764.8,1782.4 Q764.8,1790.4 772.8,1790.4 L920,1790.4" stroke="#5e9fa4" stroke-width="2.6" fill="none"/>
<polygon points="919.00,1781.15 919.00,1800.65 930.00,1790.90" fill="#4599b0"/>
<path d="M1183,1790.6 L1278.6,1790.6 Q1286.6,1790.6 1286.6,1798.6 L1286.6,1816" stroke="#5e9fa4" stroke-width="2.6" fill="none"/>
<path d="M1286.6,1862 L1286.6,1872.4 Q1286.6,1880.4 1278.6,1880.4 L1193,1880.4" stroke="#5e9fa4" stroke-width="2.6" fill="none"/>
<polygon points="1194.50,1870.60 1194.50,1890.60 1183.50,1880.60" fill="#4599b0"/>
<path d="M931,1879.4 L759.3,1879.4 Q751.3,1879.4 751.3,1887.4 L751.3,1905" stroke="#5e9fa4" stroke-width="2.6" fill="none"/>
<path d="M751.3,1950 L751.3,1965.4 Q751.3,1973.4 759.3,1973.4 L920,1973.4" stroke="#5e9fa4" stroke-width="2.6" fill="none"/>
<polygon points="918.60,1963.65 918.60,1983.15 929.60,1973.40" fill="#4599b0"/>
<path d="M1183,1973.7 L1278.6,1973.7 Q1286.6,1973.7 1286.6,1981.7 L1286.6,1997" stroke="#5e9fa4" stroke-width="2.6" fill="none"/>
<path d="M1286.6,2042 L1286.6,2053.4 Q1286.6,2061.4 1278.6,2061.4 L1195,2061.4" stroke="#5e9fa4" stroke-width="2.6" fill="none"/>
<polygon points="1195.30,2051.95 1195.30,2071.45 1184.30,2061.70" fill="#4599b0"/>
<rect x="929.40" y="1680.90" width="251.70" height="52.10" rx="8.4" fill="#cbeef8" stroke="none" stroke-width="0"/>
<rect x="931.80" y="1683.30" width="246.90" height="47.30" rx="6" fill="#49a8c8" stroke="none" stroke-width="0"/>
<text x="950.99" y="1714.20" font-size="27" font-weight="normal" font-style="normal" font-family='"Liberation Sans", sans-serif' fill="#f2fbff" textLength="207.79" lengthAdjust="spacingAndGlyphs">Prix d&#x27;achat brut</text>
<rect x="929.40" y="1766.60" width="251.70" height="52.10" rx="8.4" fill="#cbeef8" stroke="none" stroke-width="0"/>
<rect x="931.80" y="1769.00" width="246.90" height="47.30" rx="6" fill="#49a8c8" stroke="none" stroke-width="0"/>
<text x="956.71" y="1799.80" font-size="27" font-weight="normal" font-style="normal" font-family='"Liberation Sans", sans-serif' fill="#f2fbff" textLength="196.27" lengthAdjust="spacingAndGlyphs">Prix d&#x27;achat net</text>
<rect x="929.40" y="1854.60" width="251.70" height="52.60" rx="8.4" fill="#cbeef8" stroke="none" stroke-width="0"/>
<rect x="931.80" y="1857.00" width="246.90" height="47.80" rx="6" fill="#49a8c8" stroke="none" stroke-width="0"/>
<text x="976.59" y="1888.00" font-size="27" font-weight="normal" font-style="normal" font-family='"Liberation Sans", sans-serif' fill="#f2fbff" textLength="156.95" lengthAdjust="spacingAndGlyphs">Coût d&#x27;achat</text>
<rect x="929.40" y="1947.60" width="251.70" height="51.40" rx="8.4" fill="#cbeef8" stroke="none" stroke-width="0"/>
<rect x="931.80" y="1950.00" width="246.90" height="46.60" rx="6" fill="#49a8c8" stroke="none" stroke-width="0"/>
<text x="954.01" y="1981.40" font-size="27" font-weight="normal" font-style="normal" font-family='"Liberation Sans", sans-serif' fill="#f2fbff" textLength="204.31" lengthAdjust="spacingAndGlyphs">Prix de vente HT</text>
<rect x="929.40" y="2034.20" width="251.70" height="51.10" rx="8.4" fill="#cbeef8" stroke="none" stroke-width="0"/>
<rect x="931.80" y="2036.60" width="246.90" height="46.30" rx="6" fill="#49a8c8" stroke="none" stroke-width="0"/>
<text x="947.86" y="2066.50" font-size="27" font-weight="normal" font-style="normal" font-family='"Liberation Sans", sans-serif' fill="#f2fbff" textLength="215.39" lengthAdjust="spacingAndGlyphs">Prix de vente TTC</text>
<circle cx="685.70" cy="1747.00" r="27.20" fill="#cfd13a"/>
<line x1="675.70" y1="1748.00" x2="692.90" y2="1748.00" stroke="#f4f3c4" stroke-width="2.6"/>
<rect x="714.30" y="1720.60" width="188.60" height="52.40" rx="8.4" fill="#eef7cc" stroke="none" stroke-width="0"/>
<rect x="716.70" y="1723.00" width="183.80" height="47.60" rx="6" fill="#7b9f3b" stroke="none" stroke-width="0"/>
<text x="728.74" y="1757.50" font-size="27" font-weight="normal" font-style="normal" font-family='"Liberation Sans", sans-serif' fill="#f3f8d2" textLength="160.07" lengthAdjust="spacingAndGlyphs">Réduction(s)</text>
<circle cx="1242.00" cy="1838.60" r="27.20" fill="#e9958d"/>
<line x1="1231.90" y1="1840.20" x2="1249.00" y2="1840.20" stroke="#fbe6e0" stroke-width="2.4"/>
<line x1="1240.45" y1="1832.00" x2="1240.45" y2="1848.50" stroke="#fbe6e0" stroke-width="2.4"/>
<rect x="1270.10" y="1812.40" width="186.50" height="52.40" rx="8.4" fill="#fbd3cc" stroke="none" stroke-width="0"/>
<rect x="1272.50" y="1814.80" width="181.70" height="47.60" rx="6" fill="#bc2829" stroke="none" stroke-width="0"/>
<text x="1283.98" y="1846.00" font-size="27" font-weight="normal" font-style="normal" font-family='"Liberation Sans", sans-serif' fill="#fde9e3" textLength="157.65" lengthAdjust="spacingAndGlyphs">Frais d&#x27;achat</text>
<circle cx="686.50" cy="1927.00" r="27.40" fill="#e9958d"/>
<line x1="676.70" y1="1929.00" x2="693.80" y2="1929.00" stroke="#fbe6e0" stroke-width="2.4"/>
<line x1="685.25" y1="1921.00" x2="685.25" y2="1937.00" stroke="#fbe6e0" stroke-width="2.4"/>
<rect x="714.60" y="1901.40" width="188.80" height="52.00" rx="8.4" fill="#fbd3cc" stroke="none" stroke-width="0"/>
<rect x="717.00" y="1903.80" width="184.00" height="47.20" rx="6" fill="#bc2829" stroke="none" stroke-width="0"/>
<text x="732.54" y="1937.80" font-size="27" font-weight="normal" font-style="normal" font-family='"Liberation Sans", sans-serif' fill="#fde9e3" textLength="152.55" lengthAdjust="spacingAndGlyphs">Marge brute</text>
<circle cx="1242.00" cy="2019.50" r="27.20" fill="#e9958d"/>
<line x1="1231.40" y1="2022.00" x2="1250.00" y2="2022.00" stroke="#fbe6e0" stroke-width="2.4"/>
<line x1="1240.70" y1="2012.90" x2="1240.70" y2="2031.40" stroke="#fbe6e0" stroke-width="2.4"/>
<rect x="1269.60" y="1993.30" width="72.80" height="52.00" rx="8.4" fill="#fbd3cc" stroke="none" stroke-width="0"/>
<rect x="1272.00" y="1995.70" width="68.00" height="47.20" rx="6" fill="#bc2829" stroke="none" stroke-width="0"/>
<text x="1282.93" y="2026.50" font-size="27" font-weight="normal" font-style="normal" font-family='"Liberation Sans", sans-serif' fill="#fde9e3" textLength="44.09" lengthAdjust="spacingAndGlyphs">TVA</text>
<path d="M0,2122.2 L80,2122.2 A14,14 0 0 1 94,2136.2 L94,2146.4 A14,14 0 0 1 80,2160.4 L0,2160.4 Z" stroke="none" stroke-width="0" fill="#b8323a"/>
<text x="41.73" y="2149.80" font-size="22" font-weight="bold" font-style="normal" font-family='"Liberation Sans", sans-serif' fill="#ffffff" textLength="35.25" lengthAdjust="spacingAndGlyphs">124</text>
<rect x="111.40" y="2127.00" width="181.90" height="29.00" rx="8" fill="#ffffff" stroke="#b0474e" stroke-width="1.5"/>
<text x="123.67" y="2149.80" font-size="22" font-weight="bold" font-style="normal" font-family='"Liberation Sans", sans-serif' fill="#a8383f" textLength="154.80" lengthAdjust="spacingAndGlyphs">LLS.fr/M2PP124</text>
</svg>
</body></html>
